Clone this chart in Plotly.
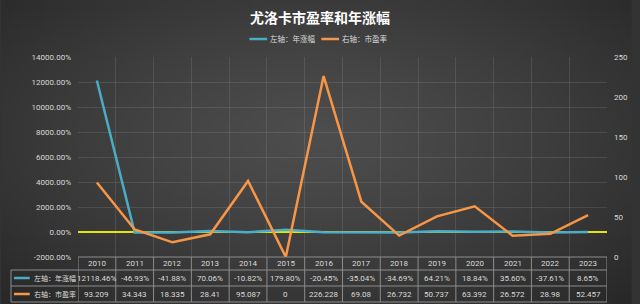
import base64, struct, zlib
import numpy as np
import plotly.graph_objects as go

# ---------------- data ----------------
years = ["2010", "2011", "2012", "2013", "2014", "2015", "2016",
         "2017", "2018", "2019", "2020", "2021", "2022", "2023"]
annual_change_pct = [12118.46, -46.93, -41.88, 70.06, -10.82, 179.80, -20.45,
                     -35.04, -34.69, 64.21, 18.84, 35.60, -37.61, 8.65]
pe_ratio = [93.209, 34.343, 18.335, 28.41, 95.087, 0, 226.228,
            69.08, 26.732, 50.737, 63.392, 26.572, 28.98, 52.457]
pe_labels = ["93.209", "34.343", "18.335", "28.41", "95.087", "0", "226.228",
             "69.08", "26.732", "50.737", "63.392", "26.572", "28.98", "52.457"]
series_names = ["左轴：年涨幅", "右轴：市盈率"]
title_text = "尤洛卡市盈率和年涨幅"
left_ticks = [-2000, 0, 2000, 4000, 6000, 8000, 10000, 12000, 14000]
left_tick_text = [f"{v:.2f}%" for v in left_ticks]
right_ticks = [0, 50, 100, 150, 200, 250]

BLUE = "#4bacc6"
ORANGE = "#f79646"
TXT = "#d9d9d9"
NUMFONT = "Roboto, Noto Sans CJK SC, sans-serif"
CJK = "Noto Sans CJK SC, sans-serif"
NUMSIZE = 8

W, H = 640, 304
L, R, T, B = 78, 25, 57, 47
PW, PH = W - L - R, H - T - B


def px_x(px):
    return (px - L) / PW


def px_y(py):
    return (H - B - py) / PH


# ---------------- background gradient image ----------------
def make_png(arr):
    h, w, _ = arr.shape
    raw = b"".join(b"\x00" + arr[i].tobytes() for i in range(h))

    def chunk(tag, data):
        c = struct.pack(">I", len(data)) + tag + data
        return c + struct.pack(">I", zlib.crc32(tag + data) & 0xffffffff)

    ihdr = struct.pack(">IIBBBBB", w, h, 8, 2, 0, 0, 0)
    return (b"\x89PNG\r\n\x1a\n" + chunk(b"IHDR", ihdr)
            + chunk(b"IDAT", zlib.compress(raw, 9)) + chunk(b"IEND", b""))


gw, gh = 160, 76
yy, xx = np.mgrid[0:gh, 0:gw]
dx = (xx / (gw - 1) - 0.5) / 0.5
dy = (yy / (gh - 1) - 0.45) / 0.55
d = np.clip(np.sqrt(dx ** 2 + dy ** 2) / 1.414, 0, 1)
val = 77 - 37 * d ** 1.3
img = np.repeat(val[:, :, None], 3, axis=2).astype(np.uint8)
bg_uri = "data:image/png;base64," + base64.b64encode(make_png(img)).decode()

# ---------------- figure ----------------
fig = go.Figure()
fig.add_trace(go.Scatter(x=years, y=annual_change_pct, mode="lines",
                         name=series_names[0],
                         line=dict(color=BLUE, width=2.5)))
fig.add_trace(go.Scatter(x=years, y=pe_ratio, mode="lines",
                         name=series_names[1], yaxis="y2",
                         line=dict(color=ORANGE, width=2.5)))

grid = "rgba(255,255,255,0.10)"
fig.update_layout(
    width=W, height=H,
    margin=dict(l=L, r=R, t=T, b=B, pad=0),
    paper_bgcolor="#333333", plot_bgcolor="rgba(0,0,0,0)",
    showlegend=False,
    title=dict(text="<b>" + title_text + "</b>", x=0.5, xanchor="center",
               y=1 - 18 / H, yanchor="middle",
               font=dict(family=CJK, size=14, color="#ffffff")),
    xaxis=dict(type="category", range=[-0.5, len(years) - 0.5],
               showticklabels=False, ticks="", tickson="boundaries",
               showgrid=True, gridcolor=grid, gridwidth=1,
               showline=False, zeroline=False, fixedrange=True),
    yaxis=dict(range=[-2000, 14000], tickmode="array", tickvals=left_ticks,
               ticktext=left_tick_text,
               tickfont=dict(family=NUMFONT, size=NUMSIZE, color=TXT),
               showgrid=True, gridcolor=grid, gridwidth=1,
               zeroline=True, zerolinecolor="#e6e600", zerolinewidth=2,
               ticks="", ticklabelstandoff=6, showline=False),
    yaxis2=dict(range=[0, 250], tickvals=right_ticks, overlaying="y",
                side="right", showgrid=False, zeroline=False,
                tickfont=dict(family=NUMFONT, size=NUMSIZE, color=TXT),
                ticks="", ticklabelstandoff=6, showline=False),
    images=[dict(source=bg_uri, xref="paper", yref="paper",
                 x=px_x(0), y=px_y(0), sizex=W / PW, sizey=H / PH,
                 xanchor="left", yanchor="top", sizing="stretch",
                 layer="below", opacity=1)],
)

shapes = []
annos = []
line_col = "#8c8c8c"

# header legend
leg = [(252, 270, 271, BLUE, series_names[0]), (325, 343, 344, ORANGE, series_names[1])]
for x0, x1, tx, col, name in leg:
    yl = px_y(39)
    shapes.append(dict(type="line", xref="paper", yref="paper",
                       x0=px_x(x0), x1=px_x(x1), y0=yl, y1=yl,
                       line=dict(color=col, width=2.5)))
    annos.append(dict(text=name, xref="paper", yref="paper", x=px_x(tx), y=yl,
                      xanchor="left", yanchor="middle", showarrow=False,
                      font=dict(family=CJK, size=7.5, color=TXT)))

# data table
row_tops = [257, 270, 286, 302]
shapes.append(dict(type="line", xref="paper", yref="paper", x0=0, x1=1,
                   y0=px_y(257), y1=px_y(257), line=dict(color=line_col, width=1)))
for py in row_tops[1:]:
    shapes.append(dict(type="line", xref="paper", yref="paper",
                       x0=px_x(10), x1=1, y0=px_y(py), y1=px_y(py),
                       line=dict(color=line_col, width=1)))
for k in range(len(years) + 1):
    shapes.append(dict(type="line", xref="x", yref="paper",
                       x0=k - 0.5, x1=k - 0.5, y0=px_y(257), y1=px_y(302),
                       line=dict(color=line_col, width=1)))
shapes.append(dict(type="line", xref="paper", yref="paper",
                   x0=px_x(10), x1=px_x(10), y0=px_y(270), y1=px_y(302),
                   line=dict(color=line_col, width=1)))

row_c = [263.5, 278, 294]
for i, yr in enumerate(years):
    annos.append(dict(text=yr, xref="x", yref="paper", x=i, y=px_y(row_c[0]),
                      showarrow=False, xanchor="center", yanchor="middle",
                      font=dict(family=NUMFONT, size=NUMSIZE, color=TXT)))
    annos.append(dict(text=f"{annual_change_pct[i]:.2f}%", xref="x", yref="paper",
                      x=i, y=px_y(row_c[1]), showarrow=False,
                      xanchor="center", yanchor="middle",
                      font=dict(family=NUMFONT, size=NUMSIZE, color=TXT)))
    annos.append(dict(text=pe_labels[i], xref="x", yref="paper",
                      x=i, y=px_y(row_c[2]), showarrow=False,
                      xanchor="center", yanchor="middle",
                      font=dict(family=NUMFONT, size=NUMSIZE, color=TXT)))

for j, (col, name) in enumerate([(BLUE, series_names[0]), (ORANGE, series_names[1])]):
    yl = px_y(row_c[j + 1])
    shapes.append(dict(type="line", xref="paper", yref="paper",
                       x0=px_x(13), x1=px_x(29), y0=yl, y1=yl,
                       line=dict(color=col, width=2.5)))
    annos.append(dict(text=name, xref="paper", yref="paper", x=px_x(31), y=yl,
                      xanchor="left", yanchor="middle", showarrow=False,
                      font=dict(family=CJK, size=7, color=TXT)))

fig.update_layout(shapes=shapes, annotations=annos)
fig.write_html("out.html")
